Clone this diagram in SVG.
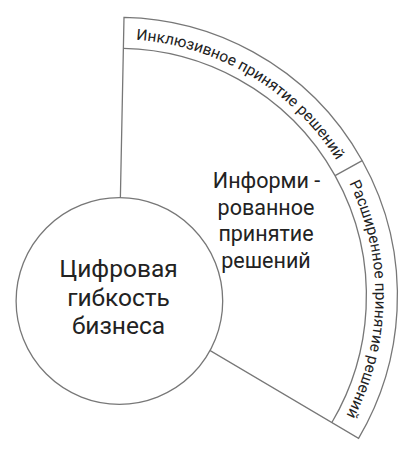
<svg xmlns="http://www.w3.org/2000/svg" width="416" height="460" viewBox="0 0 416 460">
<style>
.ln{stroke:#777;stroke-width:1.3}
.nf{fill:none}
.wf{fill:#fff}
.t{font-family:Roboto,"Liberation Sans",sans-serif;fill:#222;text-anchor:middle}
.arc{font-size:15.5px}
.mid{font-size:21.5px}
.big{font-size:24.5px}
</style>
<defs>
<path id="p1" d="M 123.56 39.35 A 257 257 0 0 1 342.96 171.31"/>
<path id="p2" d="M 342.96 171.31 A 257 257 0 0 1 339.61 427.12"/>
</defs>
<g id="connectors">
<path class="ln wf" d="M 118.4 296.3 L 124 17.36 A 279 279 0 0 1 358.55 438.32 Z"/>
<path class="ln nf" d="M 123.38 48.35 A 248 248 0 0 1 331.86 422.54"/>
<path class="ln nf" d="M 335.1 175.69 L 362.18 160.61"/>
</g>
<g id="band-inclusive">
<text class="t arc"><textPath href="#p1" startOffset="50%">Инклюзивное принятие решений</textPath></text>
</g>
<g id="band-extended">
<text class="t arc"><textPath href="#p2" startOffset="50%">Расширенное принятие решений</textPath></text>
</g>
<g id="informed">
<text class="t mid"><tspan x="266.5" y="188">Информи -</tspan><tspan x="266" y="214.5">рованное</tspan><tspan x="266" y="241">принятие</tspan><tspan x="266" y="267.5">решений</tspan></text>
</g>
<g id="core">
<circle class="ln wf" cx="119.4" cy="301" r="103.3"/>
<text class="t big"><tspan x="118.5" y="277">Цифровая</tspan><tspan x="118.5" y="305.5">гибкость</tspan><tspan x="118.5" y="334">бизнеса</tspan></text>
</g>
</svg>
